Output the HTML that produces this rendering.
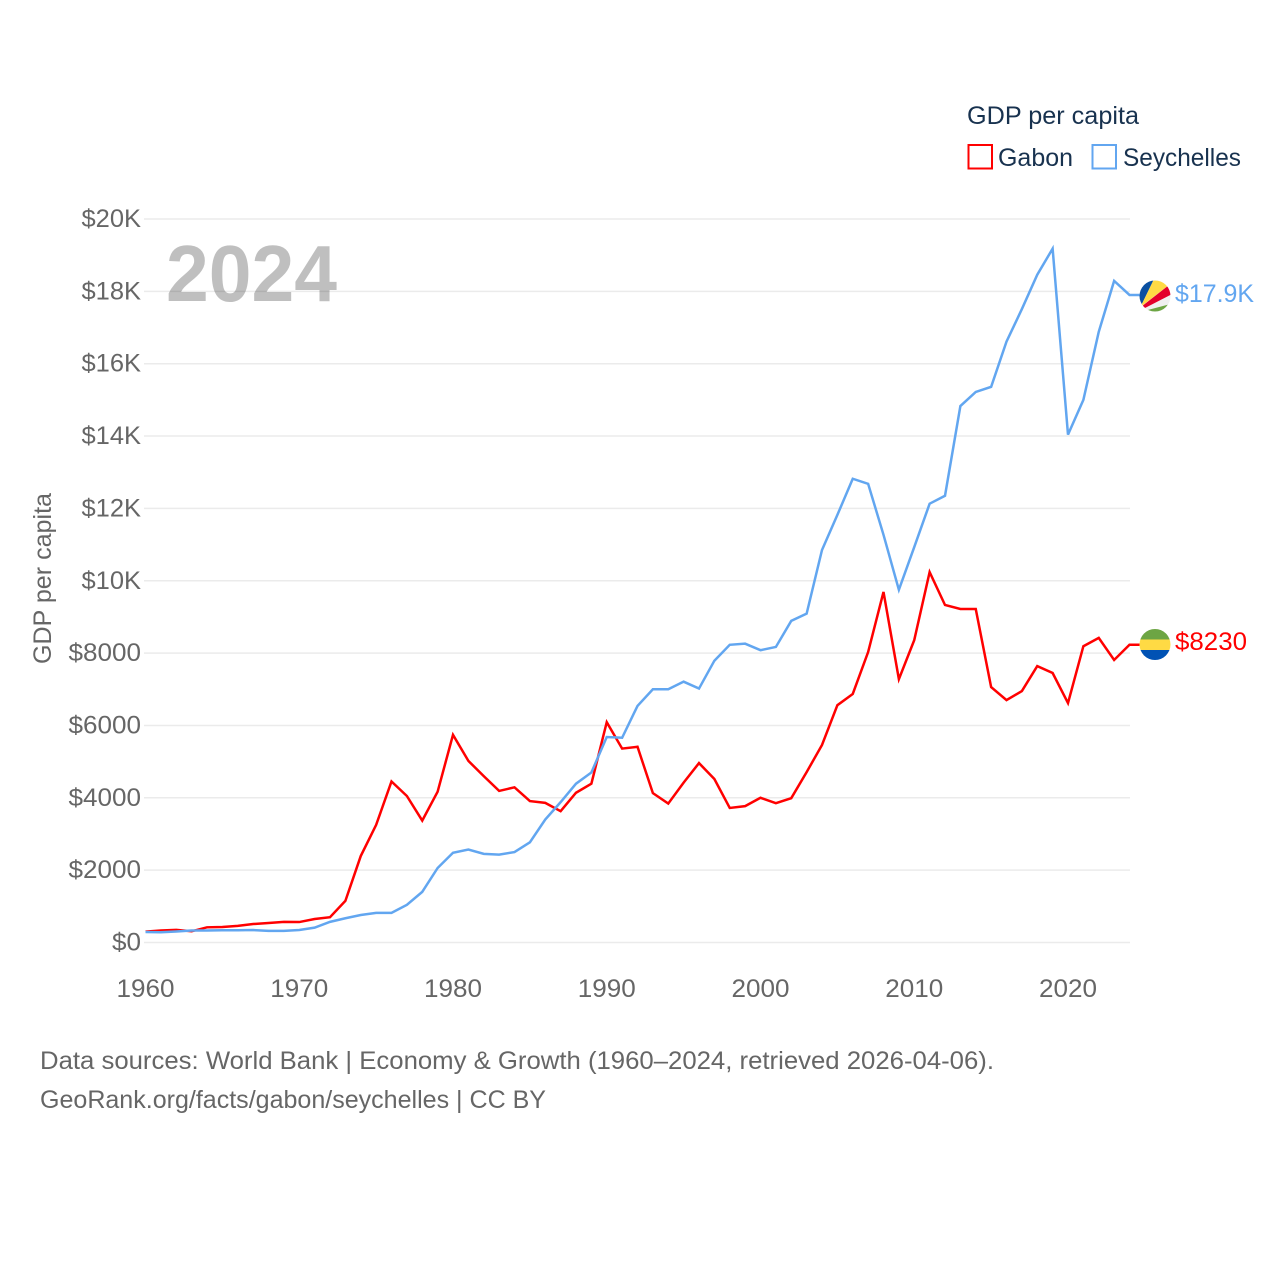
<!DOCTYPE html>
<html lang="en">
<head>
<meta charset="utf-8">
<title>GDP per capita: Gabon and Seychelles</title>
<style>
html,body{margin:0;padding:0;background:#fff;}
svg{display:block;}
text{font-family:"Liberation Sans",sans-serif;}
</style>
</head>
<body>
<svg id="chart" xmlns="http://www.w3.org/2000/svg" width="1280" height="1280" viewBox="0 0 1280 1280">
  <defs>
    <clipPath id="clip-sey"><circle id="clip-sey-circle" cx="1155" cy="296" r="15.5"></circle></clipPath>
    <clipPath id="clip-gab"><circle id="clip-gab-circle" cx="1155" cy="644.5" r="15.5"></circle></clipPath>
  </defs>
  <rect x="0" y="0" width="1280" height="1280" fill="#ffffff"></rect>

  <g id="grid"></g>
  <g id="ytick-labels"></g>
  <g id="xtick-labels"></g>

  <text x="166" y="301" font-size="80" font-weight="700" fill="#000000" fill-opacity="0.25" textLength="171" lengthAdjust="spacingAndGlyphs">2024</text>

  <text transform="translate(51,664) rotate(-90)" x="0" y="0" font-size="25" fill="#666666" textLength="171" lengthAdjust="spacingAndGlyphs">GDP per capita</text>

  <g id="series"></g>

  <g id="flag-seychelles" clip-path="url(#clip-sey)">
    <rect x="1135" y="275" width="42" height="42" fill="#f0f0f0"></rect>
    <polygon points="1135,275 1156,275 1139,310 1135,312" fill="#0a50a1"></polygon>
    <polygon points="1139,310 1156,275 1178,275 1178,278 1143,305" fill="#ffda44"></polygon>
    <polygon points="1141,307 1178,278 1178,291 1145,308" fill="#e4002b"></polygon>
    <polygon points="1140,312 1178,302 1178,320 1140,320" fill="#6da544"></polygon>
  </g>
  <g id="flag-gabon" clip-path="url(#clip-gab)">
    <rect id="gab-green" x="1139" y="629" width="32" height="10.5" fill="#6da544"></rect>
    <rect id="gab-yellow" x="1139" y="639.5" width="32" height="10.5" fill="#ffda44"></rect>
    <rect id="gab-blue" x="1139" y="650" width="32" height="10.5" fill="#0052b4"></rect>
  </g>

  <text id="end-label-seychelles" x="1175" y="302" font-size="25" fill="#62a6f0" textLength="79" lengthAdjust="spacingAndGlyphs"></text>
  <text id="end-label-gabon" x="1175" y="650" font-size="25" fill="#ff0000" textLength="72" lengthAdjust="spacingAndGlyphs"></text>

  <g>
    <text x="967" y="124" font-size="25" fill="#18324f" textLength="172" lengthAdjust="spacingAndGlyphs">GDP per capita</text>
    <rect x="968.5" y="145" width="23.5" height="23.5" fill="#ffffff" stroke="#ff0000" stroke-width="2"></rect>
    <text x="998" y="166" font-size="25" fill="#18324f" textLength="75" lengthAdjust="spacingAndGlyphs">Gabon</text>
    <rect x="1092.5" y="145" width="23.5" height="23.5" fill="#ffffff" stroke="#62a6f0" stroke-width="2"></rect>
    <text x="1123" y="166" font-size="25" fill="#18324f" textLength="118" lengthAdjust="spacingAndGlyphs">Seychelles</text>
  </g>

  <text x="40" y="1069" font-size="25" fill="#666666" textLength="954" lengthAdjust="spacingAndGlyphs">Data sources: World Bank | Economy &amp; Growth (1960–2024, retrieved 2026-04-06).</text>
  <text x="40" y="1108" font-size="25" fill="#666666" textLength="506" lengthAdjust="spacingAndGlyphs">GeoRank.org/facts/gabon/seychelles | CC BY</text>
</svg>

<script>
var startYear = 1960;
var gabonValues = [300,330,350,310,420,430,460,510,540,570,565,650,700,1150,2390,3250,4450,4050,3370,4170,5740,5020,4600,4190,4290,3910,3860,3630,4140,4390,6090,5360,5410,4130,3840,4420,4960,4520,3720,3770,4000,3850,3990,4710,5460,6560,6870,8030,9690,7280,8360,10240,9330,9220,9220,7060,6700,6950,7640,7450,6620,8190,8420,7810,8230];
var seychellesValues = [290,285,305,330,330,340,340,345,320,320,345,410,570,670,760,820,820,1040,1400,2060,2480,2570,2450,2430,2500,2770,3400,3880,4390,4700,5680,5660,6540,7000,7000,7210,7020,7790,8230,8260,8080,8170,8890,9090,10850,11820,12820,12680,11270,9750,10930,12130,12350,14830,15220,15360,16610,17510,18460,19180,14040,15000,16880,18290,17900];
var yTickValues = [0,2000,4000,6000,8000,10000,12000,14000,16000,18000,20000];
var yTickLabels = ["$0","$2000","$4000","$6000","$8000","$10K","$12K","$14K","$16K","$18K","$20K"];
var xTickValues = [1960,1970,1980,1990,2000,2010,2020];
var xTickLabels = ["1960","1970","1980","1990","2000","2010","2020"];
var gabonEndLabel = "$8230";
var seychellesEndLabel = "$17.9K";

var NS = "http://www.w3.org/2000/svg";
function xScale(year) { return 145.5 + (year - 1960) * (1129.5 - 145.5) / 64; }
function yScale(value) { return 942.5 - value * (942.5 - 219) / 20000; }
function labelWidth(label) { return label.length * 14.5 + (label.indexOf("K") >= 0 ? 1.5 : 0); }

var gridGroup = document.getElementById("grid");
var yLabelGroup = document.getElementById("ytick-labels");
yTickValues.forEach(function (v, i) {
  var line = document.createElementNS(NS, "line");
  
  
  line.setAttribute("x1", 144);
  line.setAttribute("x2", 1130);
  line.setAttribute("y1", yScale(v));
  line.setAttribute("y2", yScale(v));
  line.setAttribute("stroke", "#ebebeb");
  line.setAttribute("stroke-width", 1.5);
  gridGroup.appendChild(line);

  var t = document.createElementNS(NS, "text");
  
  
  t.setAttribute("x", 141);
  t.setAttribute("y", yScale(v) + 8);
  t.setAttribute("text-anchor", "end");
  t.setAttribute("font-size", 25);
  t.setAttribute("fill", "#666666");
  t.setAttribute("textLength", labelWidth(yTickLabels[i]));
  t.setAttribute("lengthAdjust", "spacingAndGlyphs");
  t.textContent = yTickLabels[i];
  yLabelGroup.appendChild(t);
});

var xLabelGroup = document.getElementById("xtick-labels");
xTickValues.forEach(function (yr, i) {
  var t = document.createElementNS(NS, "text");
  
  
  t.setAttribute("x", xScale(yr));
  t.setAttribute("y", 997);
  t.setAttribute("text-anchor", "middle");
  t.setAttribute("font-size", 25);
  t.setAttribute("fill", "#666666");
  t.setAttribute("textLength", labelWidth(xTickLabels[i]));
  t.setAttribute("lengthAdjust", "spacingAndGlyphs");
  t.textContent = xTickLabels[i];
  xLabelGroup.appendChild(t);
});

function seriesPoints(values) {
  var pts = values.map(function (v, i) {
    return xScale(startYear + i).toFixed(2) + "," + yScale(v).toFixed(2);
  });
  var last = values[values.length - 1];
  pts.push((xScale(startYear + values.length - 1) + 10).toFixed(2) + "," + yScale(last).toFixed(2));
  return pts.join(" ");
}

var seriesGroup = document.getElementById("series");

var gabonLine = document.createElementNS(NS, "polyline");


gabonLine.setAttribute("points", seriesPoints(gabonValues));
gabonLine.setAttribute("fill", "none");
gabonLine.setAttribute("stroke", "#ff0000");
gabonLine.setAttribute("stroke-width", 2.5);
gabonLine.setAttribute("stroke-linejoin", "miter");
seriesGroup.appendChild(gabonLine);

var seychellesLine = document.createElementNS(NS, "polyline");


seychellesLine.setAttribute("points", seriesPoints(seychellesValues));
seychellesLine.setAttribute("fill", "none");
seychellesLine.setAttribute("stroke", "#62a6f0");
seychellesLine.setAttribute("stroke-width", 2.5);
seychellesLine.setAttribute("stroke-linejoin", "miter");
seriesGroup.appendChild(seychellesLine);

/* flags and end labels follow the last data value */
var seyDy = yScale(seychellesValues[seychellesValues.length - 1]) - yScale(17900);
var gabDy = yScale(gabonValues[gabonValues.length - 1]) - yScale(8230);
document.getElementById("flag-seychelles").setAttribute("transform", "translate(0," + seyDy + ")");
document.getElementById("flag-gabon").setAttribute("transform", "translate(0," + gabDy + ")");

var seyLabel = document.getElementById("end-label-seychelles");
seyLabel.textContent = seychellesEndLabel;
seyLabel.setAttribute("y", 302 + seyDy);
var gabLabel = document.getElementById("end-label-gabon");
gabLabel.textContent = gabonEndLabel;
gabLabel.setAttribute("y", 650 + gabDy);
</script>
</body>
</html>
